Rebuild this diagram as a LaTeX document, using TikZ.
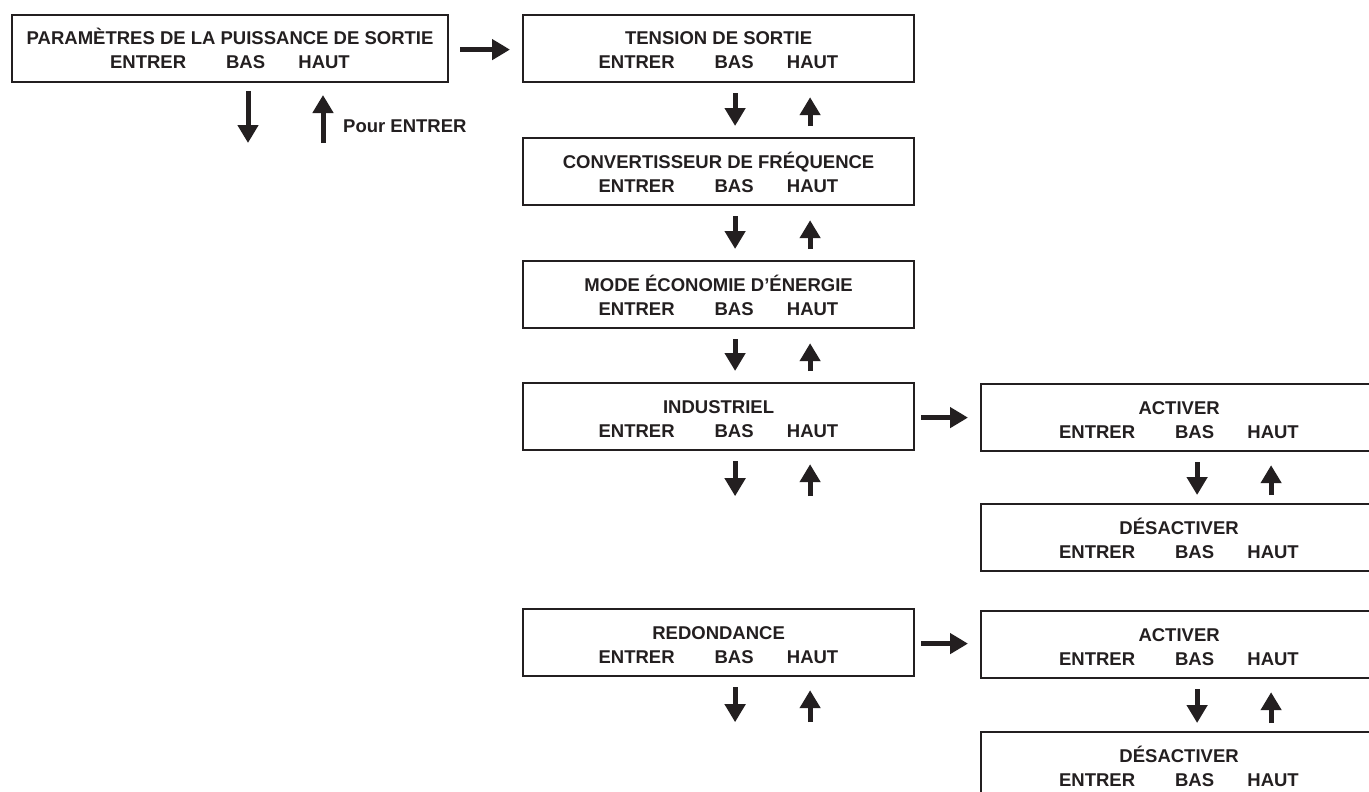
\documentclass[tikz,border=0pt]{standalone}
\usepackage{fontspec}
\setmainfont{Liberation Sans}
\usetikzlibrary{arrows.meta}
\definecolor{ink}{HTML}{231F20}
\begin{document}
\begin{tikzpicture}[x=1pt,y=-1pt,
  box/.style={draw=ink,line width=2.2pt,rectangle,minimum height=67pt,inner sep=0pt,anchor=north west,fill=white},
  lbl/.style={font=\fontsize{18.5}{20}\selectfont\bfseries,text=ink,anchor=base,inner sep=0pt},
  arr/.style={draw=ink,line width=5pt,-{Triangle[length=18pt,width=20pt]}}
]
\useasboundingbox (0,0) rectangle (1369,792);
\clip (0,0) rectangle (1369,792);
\fill[white] (0,0) rectangle (1369,792);

\newcommand{\mybox}[5]{% name, x, y, width, title
  \node[box,minimum width=#4pt] (#1) at (#2,#3) {};
  \node[lbl] (#1t) at ([yshift=-31pt]#1.north) {#5};
  \node[lbl] (#1e) at ([xshift=-82pt,yshift=-55pt]#1.north) {ENTRER};
  \node[lbl] (#1b) at ([xshift=15.5pt,yshift=-55pt]#1.north) {BAS};
  \node[lbl] (#1h) at ([xshift=94pt,yshift=-55pt]#1.north) {HAUT};
}

\mybox{p}{11}{14}{436}{PARAMÈTRES DE LA PUISSANCE DE SORTIE}
\mybox{ts}{522}{14}{391}{TENSION DE SORTIE}
\mybox{cf}{522}{137}{391}{CONVERTISSEUR DE FRÉQUENCE}
\mybox{me}{522}{260}{391}{MODE ÉCONOMIE D’ÉNERGIE}
\mybox{in}{522}{382}{391}{INDUSTRIEL}
\mybox{rd}{522}{608}{391}{REDONDANCE}
\mybox{ia}{980}{383}{396}{ACTIVER}
\mybox{id}{980}{503}{396}{DÉSACTIVER}
\mybox{ra}{980}{610}{396}{ACTIVER}
\mybox{rdd}{980}{731}{396}{DÉSACTIVER}

% free ends
\coordinate (pd1) at (248,91);
\coordinate (pd2) at (248,143);
\coordinate (pu1) at (323,143);
\coordinate (pu2) at (323,95);
\node[lbl,anchor=base west] (pour) at (343,132) {Pour ENTRER};

\draw[arr] (pd1) -- (pd2);
\draw[arr] (pu1) -- (pu2);

% horizontal arrows
\draw[arr,shorten <=11pt,shorten >=12pt] ([yshift=-1pt]p.east) -- ([yshift=-1pt]p.east -| ts.west);
\draw[arr,shorten <=6pt,shorten >=12pt] ([yshift=-1pt]in.east) -- ([yshift=-1pt]in.east -| ia.west);
\draw[arr,shorten <=6pt,shorten >=12pt] ([yshift=-1pt]rd.east) -- ([yshift=-1pt]rd.east -| ra.west);

% vertical pairs between middle boxes
\foreach \a/\b in {ts/cf, cf/me, me/in}{
  \draw[arr,shorten <=10pt,shorten >=11pt] ([xshift=16.5pt]\a.south) -- ([xshift=16.5pt]\b.north);
  \draw[arr,shorten <=11pt,shorten >=14pt] ([xshift=91.5pt]\b.north) -- ([xshift=91.5pt]\a.south);
}
% right pairs
\foreach \a/\b in {ia/id, ra/rdd}{
  \draw[arr,shorten <=10pt,shorten >=8pt] ([xshift=18pt]\a.south) -- ([xshift=18pt]\b.north);
  \draw[arr,shorten <=8pt,shorten >=13pt] ([xshift=92pt]\b.north) -- ([xshift=92pt]\a.south);
}
% free-ended pairs below INDUSTRIEL and REDONDANCE
\foreach \a in {in, rd}{
  \coordinate (\a d) at ([xshift=16.5pt,yshift=-45pt]\a.south);
  \coordinate (\a u) at ([xshift=91.5pt,yshift=-45pt]\a.south);
  \draw[arr,shorten <=10pt] ([xshift=16.5pt]\a.south) -- (\a d);
  \draw[arr,shorten >=13pt] (\a u) -- ([xshift=91.5pt]\a.south);
}
\end{tikzpicture}
\end{document}
